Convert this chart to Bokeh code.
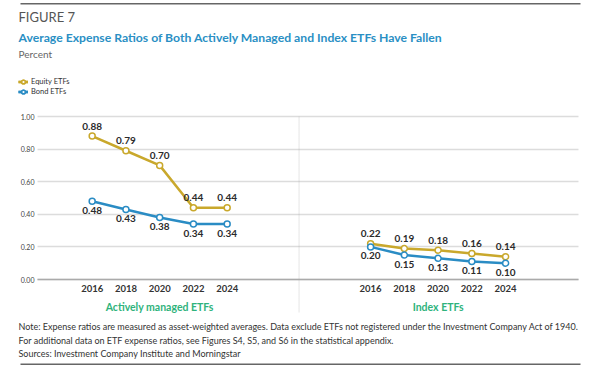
from bokeh.plotting import figure
from bokeh.models import (Range1d, FixedTicker, Label, Legend, LegendItem,
                          BoxAnnotation, ColumnDataSource, NumeralTickFormatter,
                          LinearAxis, Grid)
from bokeh.embed import file_html
from bokeh.resources import INLINE
from bokeh.core.properties import value

years = ["2016", "2018", "2020", "2022", "2024"]
groups = ["Actively managed ETFs", "Index ETFs"]
active_equity = [0.88, 0.79, 0.70, 0.44, 0.44]
active_bond = [0.48, 0.43, 0.38, 0.34, 0.34]
index_equity = [0.22, 0.19, 0.18, 0.16, 0.14]
index_bond = [0.20, 0.15, 0.13, 0.11, 0.10]
y_ticks = [0.0, 0.2, 0.4, 0.6, 0.8, 1.0]

GOLD = "#c9a82c"
BLUE = "#2a8cc4"
GREEN = "#2fb37c"
TITLE_BLUE = "#2a8fc4"
FONT = "Lato"
GROUP_OFFSET = [0.0, 8.25]

W, H = 599, 367
# pixel layout of the plotting area inside the canvas
PX_L, PX_R, PX_T, PX_B = 37, 578, 116, 279
X_L, X_R = -1.62, 14.41
sx = (PX_R - PX_L) / (X_R - X_L)
sy = (PX_B - PX_T) / 1.0
x_range = Range1d(X_L - PX_L / sx, X_R + (W - PX_R) / sx)
y_range = Range1d(-(H - PX_B) / sy, 1.0 + PX_T / sy)

p = figure(width=W, height=H, output_backend="svg", toolbar_location=None,
           x_range=x_range, y_range=y_range, x_axis_type=None, y_axis_type=None,
           min_border=0)
p.outline_line_color = None
p.background_fill_color = "white"
p.border_fill_color = "white"
p.xgrid.visible = False
p.ygrid.visible = False

pos_left = [GROUP_OFFSET[0] + i for i in range(len(years))]
pos_right = [GROUP_OFFSET[1] + i for i in range(len(years))]

# y grid
grid = Grid(dimension=1, ticker=FixedTicker(ticks=y_ticks),
            grid_line_color="#dcdcdc", grid_line_width=1.5)
if "cross_bounds" in Grid.properties():
    grid.cross_bounds = (X_L, X_R)
p.add_layout(grid, "center")

# y axis
yax = LinearAxis(ticker=FixedTicker(ticks=y_ticks),
                 formatter=NumeralTickFormatter(format="0.00"),
                 fixed_location=X_L, axis_line_color=None,
                 major_tick_line_color=None, minor_tick_line_color=None,
                 major_tick_in=0, major_tick_out=0,
                 major_label_text_font=FONT, major_label_text_font_size="7px",
                 major_label_text_color="#444444", major_label_standoff=3)
p.add_layout(yax, "left")

# x axis with years
xax = LinearAxis(ticker=FixedTicker(ticks=pos_left + pos_right),
                 major_label_overrides={**{x: y for x, y in zip(pos_left, years)},
                                        **{x: y for x, y in zip(pos_right, years)}},
                 fixed_location=0, bounds=(X_L, X_R),
                 axis_line_color="#aaaaaa", axis_line_width=1.5,
                 major_tick_line_color=None, minor_tick_line_color=None,
                 major_tick_in=0, major_tick_out=0,
                 major_label_text_font=FONT, major_label_text_font_size="9.5px",
                 major_label_text_font_style="bold",
                 major_label_text_color="#333333", major_label_standoff=5)
p.add_layout(xax, "below")

# group axis
group_pos = [g + 2 for g in GROUP_OFFSET]
gax = LinearAxis(ticker=FixedTicker(ticks=group_pos),
                 major_label_overrides={x: n for x, n in zip(group_pos, groups)},
                 fixed_location=0, axis_line_color=None,
                 major_tick_line_color=None, minor_tick_line_color=None,
                 major_tick_in=0, major_tick_out=0,
                 major_label_text_font=FONT, major_label_text_font_size="10.5px",
                 major_label_text_font_style="bold",
                 major_label_text_color=GREEN, major_label_standoff=21)
p.add_layout(gax, "below")

# divider
p.add_layout(BoxAnnotation(left=6.13, right=6.13, top=1.0, bottom=-(312 - PX_B) / sy,
                           fill_alpha=0, line_color="#aaaaaa", line_width=1,
                           line_dash="2 2"))

# series
legend_renderers = {}
for name, color, series in [("Equity ETFs", GOLD, (active_equity, index_equity)),
                            ("Bond ETFs", BLUE, (active_bond, index_bond))]:
    rs = []
    for xs, ys in zip((pos_left, pos_right), series):
        src = ColumnDataSource(dict(x=xs, y=ys, lab=[f"{v:.2f}" for v in ys]))
        l = p.line("x", "y", source=src, line_color=color, line_width=2.5)
        s = p.scatter("x", "y", source=src, size=6, fill_color="white",
                      line_color=color, line_width=1.5)
        off = -10 if name == "Equity ETFs" else 9
        p.text("x", "y", text="lab", source=src, text_align="center",
               text_baseline="middle", y_offset=off, text_font=value(FONT),
               text_font_size="10px", text_font_style="bold",
               text_color="#2b2b2b")
        rs += [l, s]
    legend_renderers[name] = rs

legend = Legend(items=[LegendItem(label=k, renderers=v) for k, v in legend_renderers.items()],
                location=(18, H - 96), orientation="vertical",
                glyph_width=10, glyph_height=9, label_height=9,
                label_text_font=FONT, label_text_font_size="7.5px",
                label_text_color="#333333", spacing=1, padding=0, margin=0,
                label_standoff=3, background_fill_alpha=0, border_line_color=None)
p.add_layout(legend, "center")

# texts (canvas pixels)
def canvas_label(text, x, y, size, color, style="normal"):
    p.add_layout(Label(x=x, y=y, x_units="canvas", y_units="canvas", text=text,
                       text_font=FONT, text_font_size=size, text_color=color,
                       text_font_style=style, text_baseline="middle"))

canvas_label("FIGURE 7", 18, 16, "13px", "#555555")
canvas_label("Average Expense Ratios of Both Actively Managed and Index ETFs Have Fallen",
             18, 37, "12.2px", TITLE_BLUE, "bold")
canvas_label("Percent", 18, 53, "10px", "#666666")
canvas_label("Note: Expense ratios are measured as asset-weighted averages. Data exclude ETFs not registered under the Investment Company Act of 1940.",
             18, 326, "9px", "#333333")
canvas_label("For additional data on ETF expense ratios, see Figures S4, S5, and S6 in the statistical appendix.",
             18, 340, "9px", "#333333")
canvas_label("Sources: Investment Company Institute and Morningstar",
             18, 353, "9px", "#333333")

# rules
for top in (2.5, 363):
    p.add_layout(BoxAnnotation(left=20, right=580, top=top, bottom=top + 1.5,
                               left_units="canvas", right_units="canvas",
                               top_units="canvas", bottom_units="canvas",
                               fill_color="#666666", fill_alpha=1, line_color=None))

open("out.html", "w").write(file_html(p, INLINE))
